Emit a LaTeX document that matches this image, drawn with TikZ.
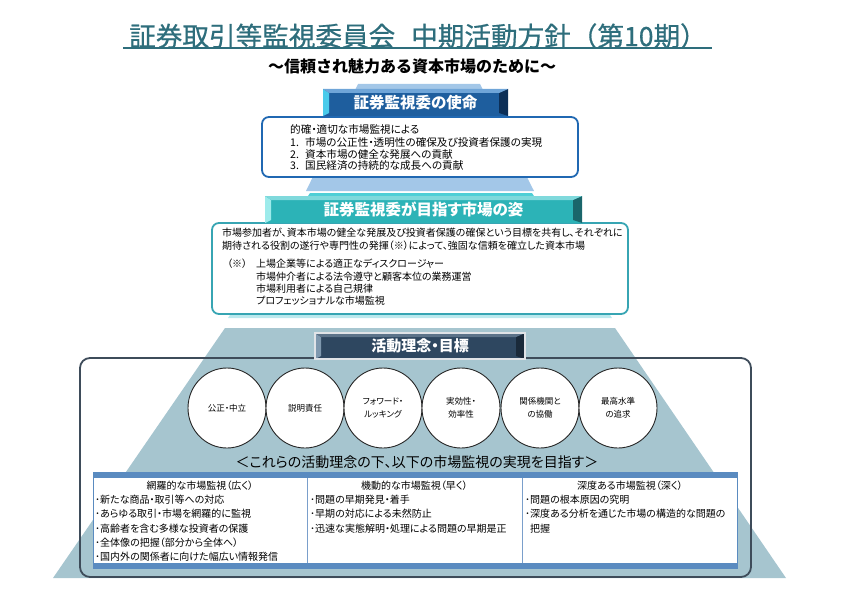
\documentclass[tikz,border=0pt]{standalone}
\usepackage{fontspec}
\usetikzlibrary{shapes.geometric}
\setmainfont{Noto Sans CJK JP}[RawFeature=+palt]
\newfontfamily\titlefont{Noto Sans CJK JP}[FakeBold=0.6]
\newfontfamily\fullfont{Noto Sans CJK JP}
\definecolor{titlec}{HTML}{2E6E7C}
\definecolor{trapA}{HTML}{A3C7E8}
\definecolor{trapBtop}{HTML}{4ECFD6}
\definecolor{trapBbot}{HTML}{BDE9EE}
\definecolor{trapC}{HTML}{A6C5CF}
\definecolor{missionb}{HTML}{2068B2}
\definecolor{visionb}{HTML}{37A5B3}
\definecolor{outerb}{HTML}{3E4C5A}
\definecolor{tband}{HTML}{5A8BC0}
\definecolor{tline}{HTML}{7A9FCB}
\definecolor{mMain}{HTML}{1E5E9E}
\definecolor{mLight}{HTML}{4ACBEB}
\definecolor{mDark}{HTML}{0C2F57}
\definecolor{mTop}{HTML}{6FA5D8}
\definecolor{vMain}{HTML}{2CB3B7}
\definecolor{vLight}{HTML}{9DEBEB}
\definecolor{vDark}{HTML}{1A666B}
\definecolor{vTop}{HTML}{7FD9DC}
\definecolor{aMain}{HTML}{2E4760}
\definecolor{aLight}{HTML}{7F98AE}
\definecolor{aDark}{HTML}{1A2A3A}
\definecolor{aTop}{HTML}{5C7389}
\begin{document}
\begin{tikzpicture}[x=1pt,y=-1pt,
  bevelhdr/.style n args={4}{fill=#1, inner sep=0pt, text=white,
    path picture={
      \fill[#2] (path picture bounding box.north west) -- ([xshift=6pt,yshift=-4pt]path picture bounding box.north west) -- ([xshift=6pt,yshift=3pt]path picture bounding box.south west) -- (path picture bounding box.south west) -- cycle;
      \fill[#3] (path picture bounding box.north east) -- ([xshift=-9pt,yshift=-4pt]path picture bounding box.north east) -- ([xshift=-9pt,yshift=3pt]path picture bounding box.south east) -- (path picture bounding box.south east) -- cycle;
      \fill[#4] (path picture bounding box.north west) -- (path picture bounding box.north east) -- ([xshift=-9pt,yshift=-4pt]path picture bounding box.north east) -- ([xshift=6pt,yshift=-4pt]path picture bounding box.north west) -- cycle;
    }},
  hdrtext/.style={font=\fontsize{15.5}{18}\selectfont\bfseries},
  txtline/.style={anchor=west, inner sep=0pt, font=\fontsize{10.6}{12}\selectfont},
  vline/.style={anchor=west, inner sep=0pt, font=\fontsize{10}{12}\selectfont},
  circ/.style={ellipse, draw=black!85, line width=0.9pt, fill=white, minimum width=78, minimum height=80, inner sep=0pt, align=center, font=\fontsize{8.5}{13}\selectfont},
  colhead/.style={inner sep=0pt, font=\fontsize{10}{12}\selectfont},
  item/.style={anchor=west, inner sep=0pt, font=\fontsize{10}{12}\selectfont}
]
\useasboundingbox (0,0) rectangle (850,599);

% title
\node[font=\titlefont\fontsize{26.6}{30}\selectfont, text=titlec, inner sep=0pt] (title) at (418,36) {証券取引等監視委員会\hspace{0.6em}中期活動方針（第10期）};
\draw[titlec, line width=2pt] (123,48) -- (712,48);
\node[font=\fullfont\fontsize{16}{18}\selectfont\bfseries, inner sep=0pt] (subtitle) at (412,66) {～信頼され魅力ある資本市場のために～};

% background trapezoids
\fill[trapA] (358,84) -- (480,84) -- (534,191) -- (306,191) -- cycle;
\shade[top color=trapBtop, bottom color=trapBbot] (310,193) -- (532,193) -- (612,318) -- (228,318) -- cycle;
\fill[trapC] (225,328) -- (615,328) -- (786,578) -- (53,578) -- cycle;

% mission
\node[draw=missionb, line width=1.8pt, rounded corners=7pt, fill=white, minimum width=316, minimum height=60] (mbox) at (420,147) {};
\node[bevelhdr={mMain}{mLight}{mDark}{mTop}, minimum width=185, minimum height=27, hdrtext] (mhdr) at (415.5,102.5) {証券監視委の使命};
\node[txtline] (m1) at (290,129) {的確・適切な市場監視による};
\node[txtline] (m2) at (290,142) {\makebox[15pt][l]{1.}市場の公正性・透明性の確保及び投資者保護の実現};
\node[txtline] (m3) at (290,154) {\makebox[15pt][l]{2.}資本市場の健全な発展への貢献};
\node[txtline] (m4) at (290,166) {\makebox[15pt][l]{3.}国民経済の持続的な成長への貢献};

% vision
\node[draw=visionb, line width=1.8pt, rounded corners=7pt, fill=white, minimum width=416, minimum height=91] (vbox) at (420,268.5) {};
\node[bevelhdr={vMain}{vLight}{vDark}{vTop}, minimum width=317, minimum height=27, hdrtext] (vhdr) at (423.5,209.5) {証券監視委が目指す市場の姿};
\node[vline] (v1) at (222,233) {市場参加者が、資本市場の健全な発展及び投資者保護の確保という目標を共有し、それぞれに};
\node[vline] (v2) at (222,246) {期待される役割の遂行や専門性の発揮（※）によって、強固な信頼を確立した資本市場};
\node[vline] (v3) at (227,264) {（※）};
\node[vline] (v4) at (256,264) {上場企業等による適正なディスクロージャー};
\node[vline] (v5) at (256,277) {市場仲介者による法令遵守と顧客本位の業務運営};
\node[vline] (v6) at (256,289) {市場利用者による自己規律};
\node[vline] (v7) at (256,301) {プロフェッショナルな市場監視};

% activity
\node[draw=outerb, line width=1.8pt, rounded corners=10pt, minimum width=671, minimum height=219] (obox) at (415.5,467.5) {};
\node[bevelhdr={aMain}{aLight}{aDark}{aTop}, draw=white!85!aMain, line width=1.5pt, minimum width=210, minimum height=26, font=\fontsize{15}{18}\selectfont\bfseries] (ahdr) at (420,346) {活動理念・目標};

\node[circ] (c1) at (227,408) {公正・中立};
\node[circ] (c2) at (305,408) {説明責任};
\node[circ] (c3) at (383,408) {フォワード・\\ルッキング};
\node[circ] (c4) at (461,408) {実効性・\\効率性};
\node[circ] (c5) at (540,408) {関係機関と\\の協働};
\node[circ] (c6) at (618,408) {最高水準\\の追求};

\node[font=\fontsize{14}{16}\selectfont, inner sep=0pt] (aim) at (417,462) {＜これらの活動理念の下、以下の市場監視の実現を目指す＞};

% table
\fill[white] (93,472) rectangle (738,569);
\draw[tband, line width=1.2pt] (93.6,472) -- (93.6,569) (737.4,472) -- (737.4,569);
\fill[tband] (93,472) rectangle (738,478);
\fill[tband] (93,563) rectangle (738,569);
\draw[tline, line width=1pt] (307,478) -- (307,563) (522,478) -- (522,563);

\node[colhead] (h1) at (200,486) {網羅的な市場監視（広く）};
\node[colhead] (h2) at (414.5,486) {機動的な市場監視（早く）};
\node[colhead] (h3) at (630,486) {深度ある市場監視（深く）};

\node[item] (a1) at (95,500) {･新たな商品・取引等への対応};
\node[item] (a2) at (95,514) {･あらゆる取引・市場を網羅的に監視};
\node[item] (a3) at (95,528.5) {･高齢者を含む多様な投資者の保護};
\node[item] (a4) at (95,543) {･全体像の把握（部分から全体へ）};
\node[item] (a5) at (95,557) {･国内外の関係者に向けた幅広い情報発信};

\node[item] (b1) at (310,500) {･問題の早期発見・着手};
\node[item] (b2) at (310,514) {･早期の対応による未然防止};
\node[item] (b3) at (310,528.5) {･迅速な実態解明・処理による問題の早期是正};

\node[item] (d1) at (525,500) {･問題の根本原因の究明};
\node[item] (d2) at (525,514) {･深度ある分析を通じた市場の構造的な問題の};
\node[item] (d3) at (530,528.5) {把握};
\end{tikzpicture}
\end{document}
